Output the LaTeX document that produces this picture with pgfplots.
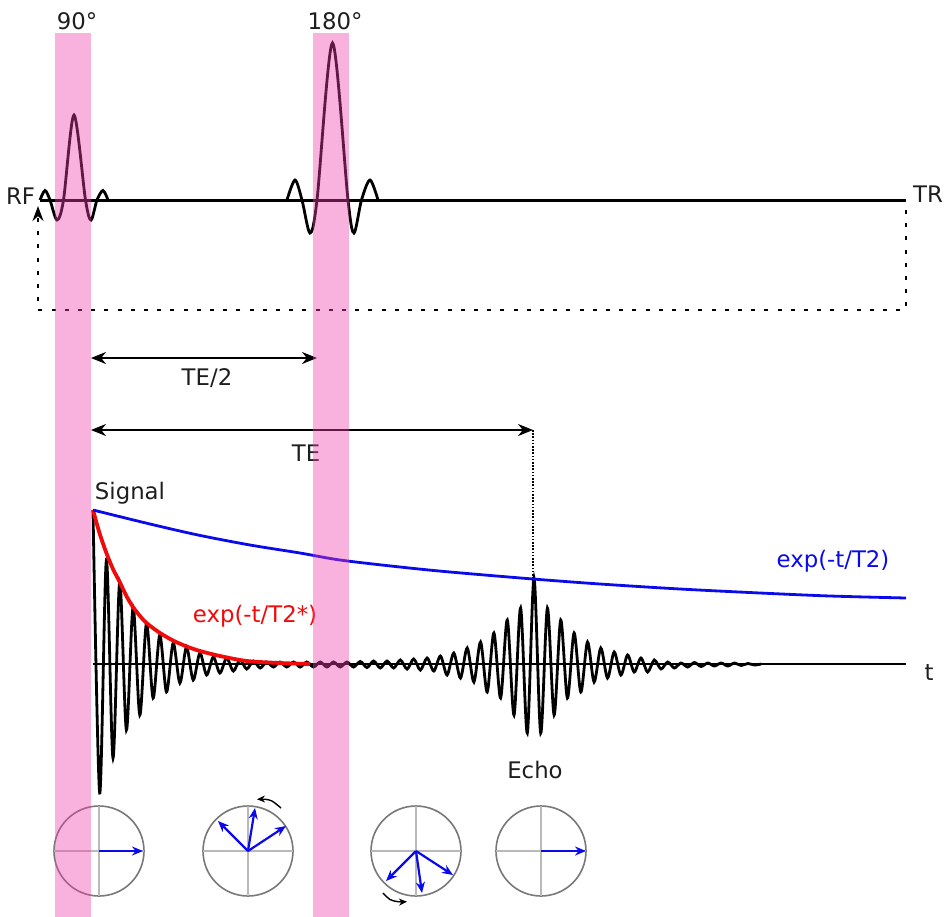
\documentclass[border=0pt]{standalone}
\usepackage{fontspec}
\setmainfont{DejaVu Sans}
\usepackage{pgfplots}
\pgfplotsset{compat=1.18}
\usetikzlibrary{arrows.meta}
\definecolor{pinkband}{RGB}{240,60,170}
\definecolor{circgray}{RGB}{120,120,120}
\definecolor{crossgray}{RGB}{185,185,185}
\definecolor{sigblue}{RGB}{10,10,235}
\definecolor{sigred}{RGB}{240,10,10}
\definecolor{txt}{RGB}{30,30,30}
\begin{document}
\begin{tikzpicture}[font=\fontsize{11.4}{13}\selectfont]
\begin{axis}[width=472pt,height=458.5pt,scale only axis,
  xmin=0,xmax=944,ymin=0,ymax=917,y dir=reverse,hide axis,clip=false]
\coordinate (BBa) at (rel axis cs:0,0);
\coordinate (BBb) at (rel axis cs:1,1);

% RF line and pulses
\addplot[black,line width=1.5pt] coordinates {(40,200) (906,200)};
\addplot[black,line width=1.4pt,smooth] coordinates {(40,200) (45,190.5) (50,200) (57,220) (63.5,200) (74,115) (85.5,200) (91,220) (97,200) (103,190.5) (108,200)};
\addplot[black,line width=1.4pt,smooth] coordinates {(287,200) (295,180) (302,200) (310,233) (317,200) (332.5,43) (348,200) (354,233) (361.5,200) (370,180) (378,200)};

% TR return loop
\addplot[black,line width=1.4pt,dash pattern=on 2pt off 4.6pt,-{Stealth[length=7.5pt,width=5.5pt]}] coordinates {(906,210) (906,310) (38,310) (38,206)};

% TE/2 and TE arrows
\addplot[black,line width=1.1pt,{Stealth[length=7.5pt,width=6pt]}-{Stealth[length=7.5pt,width=6pt]}] coordinates {(91,358) (317,358)};
\addplot[black,line width=1.1pt,{Stealth[length=7.5pt,width=6pt]}-{Stealth[length=7.5pt,width=6pt]}] coordinates {(91,430) (533,430)};
\addplot[black,line width=0.8pt,dash pattern=on 0.8pt off 0.8pt] coordinates {(533,430) (533,578)};

% signal baseline
\addplot[black,line width=1.3pt] coordinates {(93,664) (906,664)};

% FID + echo
\addplot[black,line width=1.4pt,smooth] coordinates {
(93.0,510) (99.7,793) (106.4,560) (113.0,758) (119.7,582) (126.4,730)
(133.1,607) (139.8,715) (146.5,623) (153.1,698) (159.8,635) (166.5,692)
(173.2,643) (179.9,683) (186.5,647) (193.2,680) (199.9,653) (206.6,675)
(213.3,657) (219.9,673) (226.6,658) (233.3,671) (240.0,660) (246.7,669)
(253.4,661) (260.1,668) (266.7,662) (273.4,667) (280.1,662) (286.8,667)
(293.5,662) (300.1,667) (306.8,662) (313.5,667) (320.2,662) (326.9,667)
(333.6,662) (340.2,667) (346.9,662) (353.6,667) (360.3,661.5) (367.0,667.5)
(373.6,661) (380.3,668) (387.0,661) (393.7,668) (400.4,660) (407.1,669)
(413.7,659) (420.4,670) (427.1,658) (433.8,671) (440.5,656) (447.1,675)
(453.8,653) (460.5,678) (467.2,648) (473.9,682) (480.6,642) (487.2,692)
(493.9,633) (500.6,698) (507.3,620) (514.0,715) (520.6,608) (527.3,733)
(534.0,578) (540.7,733) (547.4,608) (554.1,715) (560.7,620) (567.4,698)
(574.1,633) (580.8,692) (587.5,642) (594.1,682) (600.8,648) (607.5,678)
(614.2,652) (620.9,675) (627.6,655) (634.2,672) (640.9,658) (647.6,672)
(654.3,660) (661.0,669) (667.7,662) (674.3,668) (681.0,663) (687.7,667)
(694.4,662.5) (701.1,666.5) (707.7,663) (714.4,666) (721.1,663) (727.8,666)
(734.5,663) (741.2,665.5) (747.8,663.5) (754.5,665) (761.2,664)};

% envelopes
\addplot[sigred,line width=1.9pt,smooth] coordinates {(93,510) (99.5,533) (106.4,553) (113,569) (119.7,582) (126.4,596) (133,607) (140,616) (146.5,623) (160,633) (174,641) (188,647) (200,651) (220,656) (247,661) (280,663) (310,664)};
\addplot[sigblue,line width=1.4pt,smooth] coordinates {(93,510) (150,524) (198,535) (250,545) (300,553) (340,560) (400,567) (450,572) (533,579) (600,584) (680,589) (760,593) (830,596) (906,598)};

% phase circles
\draw[circgray,line width=0.8pt] (axis cs:99,851) circle[radius=45];
\draw[circgray,line width=0.8pt] (axis cs:248,851) circle[radius=45];
\draw[circgray,line width=0.8pt] (axis cs:416,851) circle[radius=45];
\draw[circgray,line width=0.8pt] (axis cs:541,851) circle[radius=45];
\addplot[crossgray,line width=0.6pt] coordinates {(54,851) (144,851)};
\addplot[crossgray,line width=0.6pt] coordinates {(99,806) (99,896)};
\addplot[crossgray,line width=0.6pt] coordinates {(203,851) (293,851)};
\addplot[crossgray,line width=0.6pt] coordinates {(248,806) (248,896)};
\addplot[crossgray,line width=0.6pt] coordinates {(371,851) (461,851)};
\addplot[crossgray,line width=0.6pt] coordinates {(416,806) (416,896)};
\addplot[crossgray,line width=0.6pt] coordinates {(496,851) (586,851)};
\addplot[crossgray,line width=0.6pt] coordinates {(541,806) (541,896)};

% magnetisation vectors
\addplot[sigblue,line width=1.1pt,-{Stealth[length=5.5pt,width=4.5pt]}] coordinates {(99,851) (143,851)};
\addplot[sigblue,line width=1.1pt,-{Stealth[length=5.5pt,width=4.5pt]}] coordinates {(248,851) (218,821)};
\addplot[sigblue,line width=1.1pt,-{Stealth[length=5.5pt,width=4.5pt]}] coordinates {(248,851) (255,808)};
\addplot[sigblue,line width=1.1pt,-{Stealth[length=5.5pt,width=4.5pt]}] coordinates {(248,851) (286,826)};
\addplot[sigblue,line width=1.1pt,-{Stealth[length=5.5pt,width=4.5pt]}] coordinates {(416,851) (386,881)};
\addplot[sigblue,line width=1.1pt,-{Stealth[length=5.5pt,width=4.5pt]}] coordinates {(416,851) (422,893)};
\addplot[sigblue,line width=1.1pt,-{Stealth[length=5.5pt,width=4.5pt]}] coordinates {(416,851) (453,875)};
\addplot[sigblue,line width=1.1pt,-{Stealth[length=5.5pt,width=4.5pt]}] coordinates {(541,851) (586,851)};
\addplot[black,line width=0.7pt,smooth,-{Stealth[length=4pt,width=3.5pt]}] coordinates {(281,808) (272,801) (265,799.3) (257,799.3)};
\addplot[black,line width=0.7pt,smooth,-{Stealth[length=4pt,width=3.5pt]}] coordinates {(383,893) (390,899.5) (398,901.7) (407,901.7)};

% labels
\node[text=txt] at (axis cs:77,21) {90°};
\node[text=txt] at (axis cs:335,21) {180°};
\node[text=txt] at (axis cs:20.5,196) {RF};
\node[text=txt] at (axis cs:928,194) {TR};
\node[text=txt] at (axis cs:207,378) {TE/2};
\node[text=txt] at (axis cs:306,453) {TE};
\node[anchor=base,text=txt] at (axis cs:130,499) {Signal};
\node[anchor=base,text=sigred] at (axis cs:255,622) {exp(-t/T2*)};
\node[anchor=base,text=sigblue] at (axis cs:833,567) {exp(-t/T2)};
\node[anchor=base,text=txt] at (axis cs:535,778) {Echo};
\node[anchor=base,text=txt] at (axis cs:929,680) {t};

% pulse bands
\addplot[draw=none,fill=pinkband,fill opacity=0.4] coordinates {(55,33) (91,33) (91,917) (55,917)};
\addplot[draw=none,fill=pinkband,fill opacity=0.4] coordinates {(313,33) (349,33) (349,917) (313,917)};
\end{axis}
\pgfresetboundingbox
\path (BBa) rectangle (BBb);
\end{tikzpicture}
\end{document}
